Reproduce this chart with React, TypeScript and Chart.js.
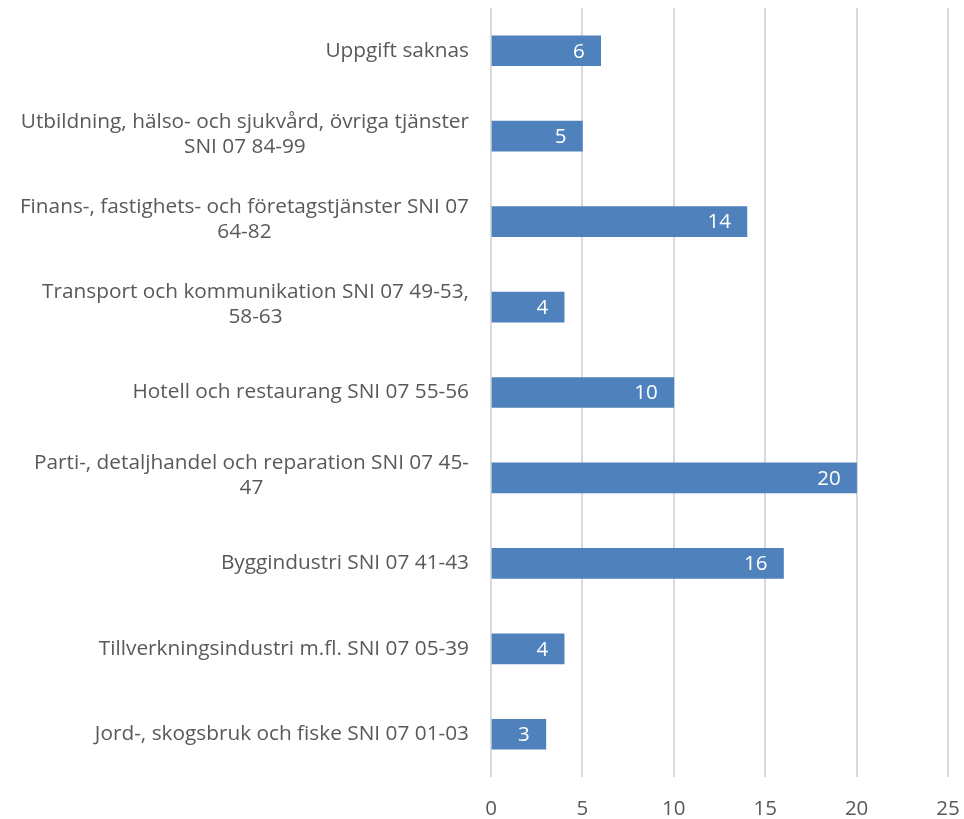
import React, { useEffect, useRef } from "react";
import { Chart, registerables } from "chart.js";

Chart.register(...registerables);

const categories: string[][] = [
  ["Uppgift saknas"],
  ["Utbildning, hälso- och sjukvård, övriga tjänster", "SNI 07 84-99"],
  ["Finans-, fastighets- och företagstjänster SNI 07", "64-82"],
  ["Transport och kommunikation SNI 07 49-53,", "58-63"],
  ["Hotell och restaurang SNI 07 55-56"],
  ["Parti-, detaljhandel och reparation SNI 07 45-", "47"],
  ["Byggindustri SNI 07 41-43"],
  ["Tillverkningsindustri m.fl. SNI 07 05-39"],
  ["Jord-, skogsbruk och fiske SNI 07 01-03"],
];
const values: number[] = [6, 5, 14, 4, 10, 20, 16, 4, 3];
const xMin = 0;
const xMax = 25;
const xStep = 5;

const FONT = "'Open Sans', sans-serif";
const LABEL_SIZE = 20.8;

const labelPlugin = {
  id: "customLabels",
  afterDatasetsDraw(chart: any) {
    const ctx = chart.ctx;
    const yScale = chart.scales.y;
    const meta = chart.getDatasetMeta(0);
    ctx.save();
    ctx.font = `${LABEL_SIZE}px ${FONT}`;
    ctx.fillStyle = "#595959";
    ctx.textBaseline = "middle";
    ctx.textAlign = "center";
    const rightEdge = chart.chartArea.left - 22;
    const lineH = 25;
    categories.forEach((lines, i) => {
      const yc = yScale.getPixelForTick(i);
      const maxW = Math.max(...lines.map((l) => ctx.measureText(l).width));
      const cx = rightEdge - maxW / 2;
      const y0 = yc - ((lines.length - 1) * lineH) / 2 - (lines.length > 1 ? 2 : 0);
      lines.forEach((l, j) => ctx.fillText(l, cx, y0 + j * lineH));
    });
    ctx.font = `20.5px ${FONT}`;
    ctx.fillStyle = "#ffffff";
    ctx.textAlign = "right";
    meta.data.forEach((bar: any, i: number) => {
      ctx.fillText(String(values[i]), bar.x - 16, bar.y + 1);
    });
    ctx.restore();
  },
};

export default function App() {
  const ref = useRef<HTMLCanvasElement | null>(null);
  useEffect(() => {
    if (!ref.current) return;
    const chart = new Chart(ref.current, {
      type: "bar",
      data: {
        labels: categories.map((c) => c.join(" ")),
        datasets: [
          {
            data: values,
            backgroundColor: "#4f81bd",
            borderWidth: 0,
            barThickness: 30,
          },
        ],
      },
      options: {
        indexAxis: "y",
        animation: false,
        responsive: false,
        maintainAspectRatio: false,
        layout: { padding: { left: 0, right: 16, top: 8, bottom: 0 } },
        plugins: {
          legend: { display: false },
          tooltip: { enabled: false },
        },
        scales: {
          x: {
            min: xMin,
            max: xMax,
            ticks: {
              stepSize: xStep,
              color: "#595959",
              font: { family: FONT, size: 20.5 },
              padding: 20,
            },
            grid: { color: "#d9d9d9", lineWidth: 2, drawTicks: false },
            border: { display: false },
            afterFit: (s: any) => {
              s.height = 42;
              s.paddingLeft = 0;
              s.paddingRight = 0;
            },
          },
          y: {
            ticks: { display: false },
            grid: { display: false },
            border: { display: false },
            afterFit: (s: any) => {
              s.width = 491;
            },
          },
        },
      },
      plugins: [labelPlugin],
    });
    return () => chart.destroy();
  }, []);
  return (
    <div style={{ position: "absolute", left: 0, top: 0, width: 964, height: 819 }}>
      <canvas ref={ref} width={964} height={819} />
    </div>
  );
}
